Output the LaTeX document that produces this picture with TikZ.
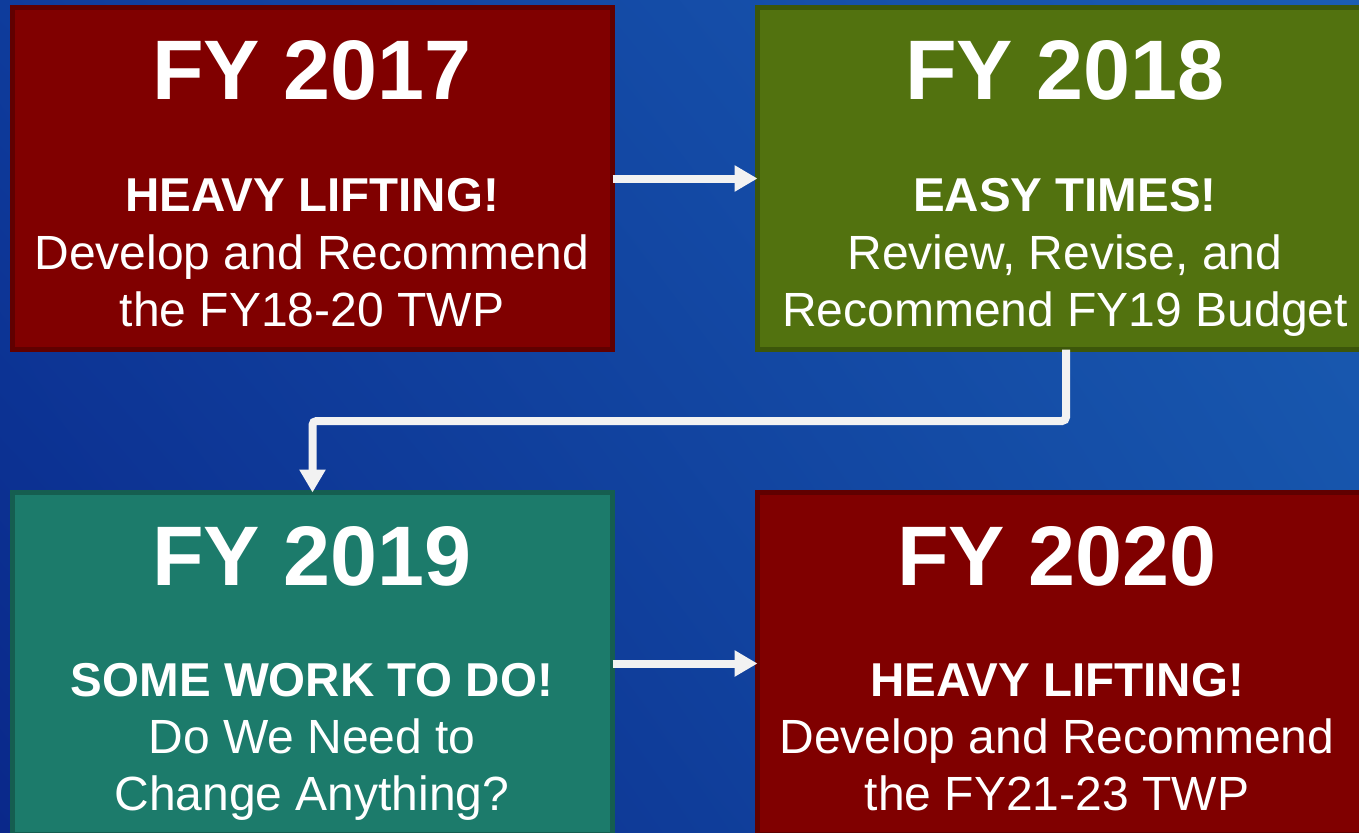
\documentclass[tikz,border=0pt]{standalone}
\usepackage{fontspec}
\setmainfont{Liberation Sans}
\usetikzlibrary{arrows.meta,shadings}
\definecolor{bgUL}{HTML}{0E3C9C}
\definecolor{bgUR}{HTML}{1B5DB3}
\definecolor{bgLL}{HTML}{0A288A}
\definecolor{bgLR}{HTML}{1450A8}
\definecolor{maroonF}{HTML}{800000}
\definecolor{maroonD}{HTML}{600000}
\definecolor{greenF}{HTML}{52720F}
\definecolor{greenD}{HTML}{3C560A}
\definecolor{tealF}{HTML}{1C7B6B}
\definecolor{tealD}{HTML}{155E50}
\definecolor{arrowW}{HTML}{F2F2F2}
\tikzset{
  yearbox/.style={rectangle, line width=5pt, outer sep=0pt, inner sep=0pt},
  redbox/.style={yearbox, fill=maroonF, draw=maroonD},
  greenbox/.style={yearbox, fill=greenF, draw=greenD},
  tealbox/.style={yearbox, fill=tealF, draw=tealD},
  titletext/.style={anchor=base, text=white, inner sep=0pt, font=\fontsize{84.5}{84.5}\selectfont\bfseries},
  headtext/.style={anchor=base, text=white, inner sep=0pt, font=\fontsize{47.5}{47.5}\selectfont\bfseries},
  bodytext/.style={anchor=base, text=white, inner sep=0pt, font=\fontsize{48}{48}\selectfont},
  flow/.style={draw=arrowW, line width=8pt, -{Triangle[length=23pt,width=25pt]}}
}
\begin{document}
\begin{tikzpicture}[x=1pt,y=-1pt]
\useasboundingbox (0,0) rectangle (1359,832);
\clip (0,0) rectangle (1359,832);
\shade[upper left=bgUL, upper right=bgUR, lower left=bgLL, lower right=bgLR] (0,0) rectangle (1359,832);

\node[redbox, minimum width=600pt, minimum height=342pt] (b1) at (312.5,178.5) {};
\node[greenbox, minimum width=617pt, minimum height=342pt] (b2) at (1066,178.5) {};
\node[tealbox, minimum width=600pt, minimum height=342pt] (b3) at (312.5,663.5) {};
\node[redbox, minimum width=617pt, minimum height=342pt] (b4) at (1066,663.5) {};

\node[titletext] (t1) at (312,100) {FY 2017};
\node[headtext] (h1) at (312,211) {HEAVY LIFTING!};
\node[bodytext] (l1a) at (312,269) {Develop and Recommend};
\node[bodytext] (l1b) at (312,326) {the FY18-20 TWP};

\node[titletext] (t2) at (1065,100) {FY 2018};
\node[headtext] (h2) at (1065,211) {EASY TIMES!};
\node[bodytext] (l2a) at (1065,269) {Review, Revise, and};
\node[bodytext] (l2b) at (1065,326) {Recommend FY19 Budget};

\node[titletext] (t3) at (312,585) {FY 2019};
\node[headtext] (h3) at (312,696) {SOME WORK TO DO!};
\node[bodytext] (l3a) at (312,753) {Do We Need to};
\node[bodytext] (l3b) at (312,810) {Change Anything?};

\node[titletext] (t4) at (1057,585) {FY 2020};
\node[headtext] (h4) at (1057,696) {HEAVY LIFTING!};
\node[bodytext] (l4a) at (1057,753) {Develop and Recommend};
\node[bodytext] (l4b) at (1057,810) {the FY21-23 TWP};

\coordinate (bend) at (0,421);
\draw[flow] (b1.east) -- (b2.west);
\draw[flow, rounded corners=4pt] (b2.south) -- (b2.south |- bend) -- (b3.north |- bend) -- (b3.north);
\draw[flow] (b3.east) -- (b4.west);
\end{tikzpicture}
\end{document}
